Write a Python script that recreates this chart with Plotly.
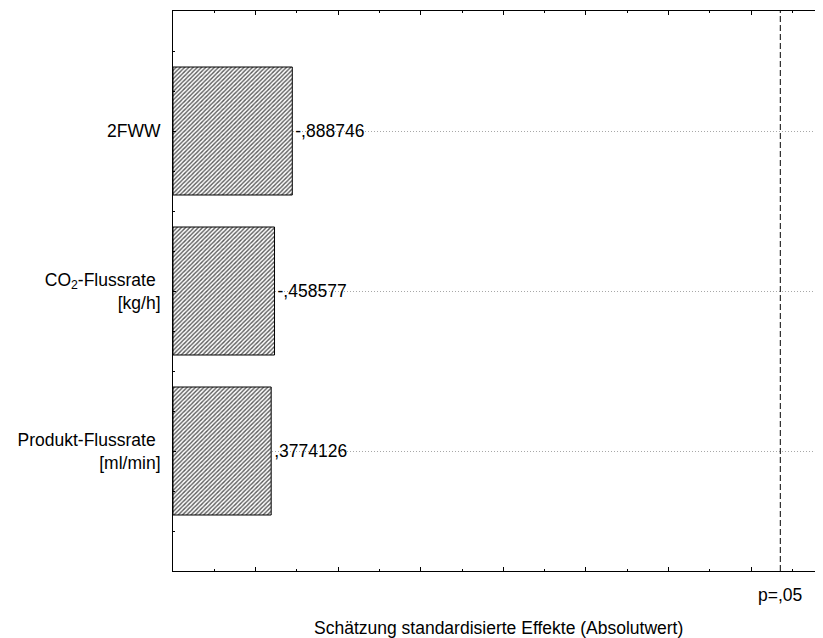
import plotly.graph_objects as go

# ---- data ----
factors = ["2FWW", "CO<sub>2</sub>-Flussrate <br>[kg/h]", "Produkt-Flussrate <br>[ml/min]"]
effects = [-0.888746, -0.458577, 0.3774126]
effect_labels = ["-,888746", "-,458577", ",3774126"]
p_crit = 12.706          # t critical value, p=,05
p_label = "p=,05"
x_min, x_max = -2.0, 13.74
x_title = "Schätzung standardisierte Effekte (Absolutwert)"

positions = list(range(len(factors)))
abs_eff = [abs(v) for v in effects]

FONT = "Liberation Sans, Arial, sans-serif"
FS = 17.5

fig = go.Figure()
fig.add_trace(go.Bar(
    y=positions,
    x=[a - x_min for a in abs_eff],
    base=x_min,
    orientation="h",
    width=0.8,
    marker=dict(
        color="white",
        line=dict(color="black", width=1),
        pattern=dict(shape="/", fgcolor="#5a5a5a", bgcolor="white",
                     size=3, solidity=0.45, fillmode="replace"),
    ),
    text=effect_labels,
    textposition="outside",
    textfont=dict(family=FONT, size=FS, color="black"),
    cliponaxis=False,
    hoverinfo="skip",
))

fig.add_shape(type="line", xref="x", yref="paper",
              x0=p_crit, x1=p_crit, y0=0, y1=1,
              line=dict(color="black", width=1, dash="6px,3px"))

fig.add_annotation(x=p_crit, xref="x", y=0, yref="paper",
                   yanchor="top", yshift=-12, showarrow=False,
                   text=p_label, font=dict(family=FONT, size=FS, color="black"))
fig.add_annotation(x=0.5, xref="paper", y=0, yref="paper",
                   yanchor="top", yshift=-45, showarrow=False,
                   text=x_title, font=dict(family=FONT, size=FS, color="black"))

fig.update_layout(
    width=815, height=630,
    margin=dict(l=165, r=0, t=3, b=67),
    paper_bgcolor="white", plot_bgcolor="white",
    showlegend=False,
    font=dict(family=FONT, size=FS, color="black"),
    bargap=0.2,
)
fig.update_xaxes(
    range=[x_min, x_max],
    showticklabels=False,
    showgrid=False, zeroline=False,
    showline=True, linecolor="black", linewidth=1, mirror="ticks",
    ticks="inside", ticklen=4, tickcolor="black", tick0=0, dtick=2,
    minor=dict(ticks="inside", ticklen=2, dtick=1, tick0=0, tickcolor="black", showgrid=False),
)
fig.update_yaxes(
    range=[2.75, -0.75],
    tickmode="array", tickvals=positions, ticktext=factors,
    showgrid=True, gridcolor="#a8a8a8", griddash="1px,2px", gridwidth=1,
    zeroline=False,
    showline=True, linecolor="black", linewidth=1, mirror=False,
    ticks="inside", ticklen=3, tickcolor="black",
    ticklabelstandoff=8,
    minor=dict(ticks="inside", ticklen=2, dtick=0.25, tick0=0, tickcolor="black", showgrid=False),
)

fig.write_html("out.html")
